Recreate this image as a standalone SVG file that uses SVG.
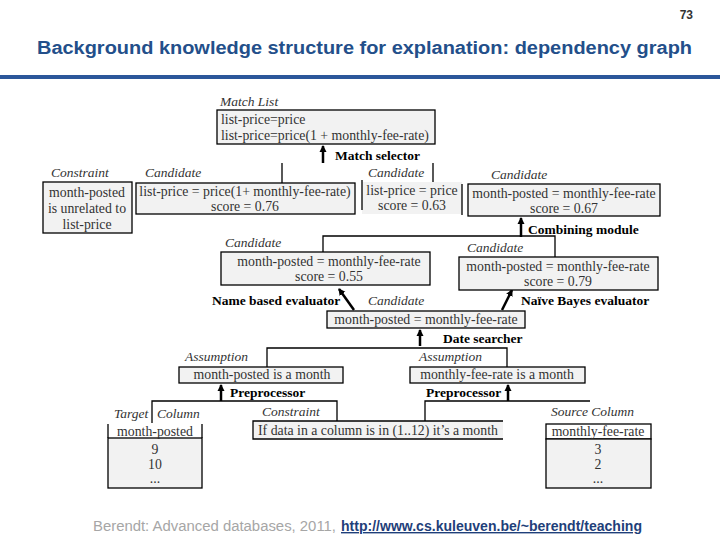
<svg xmlns="http://www.w3.org/2000/svg" width="720" height="540" viewBox="0 0 720 540">
<defs>
<marker id="ah" markerWidth="8" markerHeight="8" refX="6" refY="4" orient="auto" markerUnits="userSpaceOnUse">
<path d="M0,0.5 L7,4 L0,7.5 Z" fill="#000"/>
</marker>
<style>
.t{font-family:"Liberation Serif","Times New Roman",serif;font-size:13.8px;fill:#333}
.c{text-anchor:middle}
.i{font-family:"Liberation Serif","Times New Roman",serif;font-style:italic;font-size:13.5px;fill:#333}
.b{font-family:"Liberation Serif","Times New Roman",serif;font-weight:bold;font-size:13.5px;fill:#000}
.box{fill:#F2F2F2;stroke:#000;stroke-width:1.3}
.fill{fill:#F2F2F2;stroke:none}
.ln{stroke:#000;stroke-width:1.3;fill:none}
.arr{stroke:#000;stroke-width:2.5;fill:none}
</style>
</defs>
<rect width="720" height="540" fill="#fff"/>
<g id="header">
<text x="693" y="19" font-family="Liberation Sans, Arial, sans-serif" font-weight="bold" font-size="12" fill="#333" text-anchor="end">73</text>
<text x="37" y="54" font-family="Liberation Sans, Arial, sans-serif" font-weight="bold" font-size="18" fill="#234F8A" textLength="655" lengthAdjust="spacingAndGlyphs">Background knowledge structure for explanation: dependency graph</text>
<rect x="0" y="75" width="720" height="4" fill="#2B579A"/>
</g>
<g id="connectors">
<path class="ln" d="M282,163 V183 M433,163 V185"/>
<path class="ln" d="M323,252 V236 H555 V257"/>
<path class="ln" d="M267,367 V348 H507 V367"/>
<path class="ln" d="M152,423 V401 H337 V421"/>
<path class="ln" d="M425,421 V401 H590"/>
<line class="arr" x1="323" y1="163" x2="323" y2="146" marker-end="url(#ah)"/>
<line class="arr" x1="521" y1="237" x2="521" y2="218" marker-end="url(#ah)"/>
<line class="arr" x1="354" y1="310" x2="339" y2="289" stroke-width="2" marker-end="url(#ah)"/>
<line class="arr" x1="502" y1="310" x2="512" y2="290" stroke-width="2" marker-end="url(#ah)"/>
<line class="arr" x1="420" y1="346" x2="420" y2="330" marker-end="url(#ah)"/>
<line class="arr" x1="221" y1="401" x2="221" y2="385" marker-end="url(#ah)"/>
<line class="arr" x1="508" y1="401" x2="508" y2="385" marker-end="url(#ah)"/>
</g>
<g id="match-list">
<text class="i" x="220" y="106">Match List</text>
<rect class="box" x="217" y="110" width="218" height="34"/>
<text class="t" x="221" y="124">list-price=price</text>
<text class="t" x="221" y="140">list-price=price(1 + monthly-fee-rate)</text>
</g>
<g id="match-selector"><text class="b" x="335" y="160">Match selector</text></g>
<g id="constraint-1">
<text class="i" x="51" y="177">Constraint</text>
<rect class="box" x="43" y="182" width="89" height="51"/>
<text class="t c" x="87" y="197">month-posted</text>
<text class="t c" x="87" y="213">is unrelated to</text>
<text class="t c" x="87" y="229">list-price</text>
</g>
<g id="candidate-1">
<text class="i" x="145" y="177">Candidate</text>
<rect class="box" x="136" y="183" width="219" height="31"/>
<text class="t c" x="245" y="196">list-price = price(1+ monthly-fee-rate)</text>
<text class="t c" x="245" y="211">score = 0.76</text>
</g>
<g id="candidate-2">
<text class="i" x="368" y="177">Candidate</text>
<rect class="fill" x="362" y="182" width="100" height="32"/>
<path class="ln" d="M362,180 V210 M462,184 V215"/>
<text class="t c" x="412" y="195">list-price = price</text>
<text class="t c" x="412" y="210">score = 0.63</text>
</g>
<g id="candidate-3">
<text class="i" x="491" y="179">Candidate</text>
<rect class="box" x="468" y="184" width="192" height="32"/>
<text class="t c" x="564" y="198">month-posted = monthly-fee-rate</text>
<text class="t c" x="564" y="213">score = 0.67</text>
</g>
<g id="combining-module"><text class="b" x="528" y="234">Combining module</text></g>
<g id="candidate-4">
<text class="i" x="225" y="247">Candidate</text>
<rect class="box" x="221" y="252" width="209" height="33"/>
<text class="t c" x="329" y="266">month-posted = monthly-fee-rate</text>
<text class="t c" x="329" y="281">score = 0.55</text>
</g>
<g id="candidate-5">
<text class="i" x="467" y="252">Candidate</text>
<rect class="box" x="459" y="257" width="199" height="33"/>
<text class="t c" x="558" y="271">month-posted = monthly-fee-rate</text>
<text class="t c" x="558" y="286">score = 0.79</text>
</g>
<g id="name-evaluator"><text class="b" x="212" y="305">Name based evaluator</text></g>
<g id="bayes-evaluator"><text class="b" x="521" y="305">Naïve Bayes evaluator</text></g>
<g id="candidate-6">
<text class="i" x="368" y="305">Candidate</text>
<rect class="box" x="327" y="311" width="198" height="17"/>
<text class="t c" x="426" y="324">month-posted = monthly-fee-rate</text>
</g>
<g id="date-searcher"><text class="b" x="443" y="343">Date searcher</text></g>
<g id="assumption-1">
<text class="i" x="185" y="361">Assumption</text>
<rect class="box" x="179" y="367" width="164" height="16"/>
<text class="t c" x="262" y="379">month-posted is a month</text>
</g>
<g id="assumption-2">
<text class="i" x="419" y="361">Assumption</text>
<rect class="box" x="410" y="367" width="175" height="16"/>
<text class="t c" x="497" y="379">monthly-fee-rate is a month</text>
</g>
<g id="preprocessor-1"><text class="b" x="230" y="397">Preprocessor</text></g>
<g id="preprocessor-2"><text class="b" x="426" y="397">Preprocessor</text></g>
<g id="target-column">
<text class="i" x="114" y="418">Target</text>
<text class="i" x="157" y="418">Column</text>
<rect x="108" y="424" width="94" height="14" fill="#fff"/>
<rect class="box" x="108" y="438" width="94" height="50"/>
<path class="ln" d="M108,424 V438 M202,424 V438"/>
<text class="t c" x="155" y="436">month-posted</text>
<text class="t c" x="155" y="454">9</text>
<text class="t c" x="155" y="469">10</text>
<text class="t c" x="155" y="483">...</text>
</g>
<g id="constraint-2">
<text class="i" x="262" y="416">Constraint</text>
<rect class="fill" x="253" y="421" width="250" height="18"/>
<path class="ln" d="M503,421 H253 V439 H503"/>
<text class="t" x="258" y="435">If data in a column is in (1..12) it’s a month</text>
</g>
<g id="source-column">
<text class="i" x="551" y="416">Source Column</text>
<rect x="546" y="424" width="105" height="15" fill="#fff" stroke="#000" stroke-width="1.3"/>
<rect class="box" x="546" y="439" width="105" height="49"/>
<text class="t c" x="598" y="436">monthly-fee-rate</text>
<text class="t c" x="598" y="454">3</text>
<text class="t c" x="598" y="469">2</text>
<text class="t c" x="598" y="483">...</text>
</g>
<g id="footer">
<text x="93" y="531" font-family="Liberation Sans, Arial, sans-serif" font-size="14" fill="#A6A6A6" textLength="243" lengthAdjust="spacingAndGlyphs">Berendt: Advanced databases, 2011,</text>
<text x="341" y="531" font-family="Liberation Sans, Arial, sans-serif" font-size="14" font-weight="bold" fill="#1F3F7A" text-decoration="underline" textLength="301" lengthAdjust="spacingAndGlyphs">http://www.cs.kuleuven.be/~berendt/teaching</text>
</g>
</svg>
